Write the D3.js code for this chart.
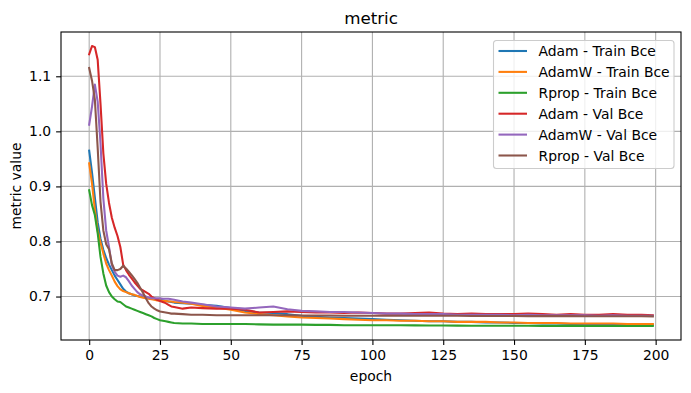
<!DOCTYPE html>
<html>
<head>
<meta charset="utf-8">
<script src="https://cdn.jsdelivr.net/npm/d3@7"></script>
<style>
  body { margin: 0; background: #fff; }
  svg { font-family: "DejaVu Sans", sans-serif; }
</style>
</head>
<body>
<div id="chart"></div>
<script>
const epochs = [0,1,2,3,4,5,6,7,8,9,10,11,12,13,14,15,16,17,18,19,20,21,22,23,24,25,26,27,28,29,30,
    33,36,40,45,50,55,60,65,70,75,80,85,90,95,100,105,110,115,120,125,130,135,140,145,150,
    155,160,165,170,175,180,185,190,195,199]

const seriesNames = [
    "Adam - Train Bce",
    "AdamW - Train Bce",
    "Rprop - Train Bce",
    "Adam - Val Bce",
    "AdamW - Val Bce",
    "Rprop - Val Bce"
]

const colors = ["#1f77b4", "#ff7f0e", "#2ca02c", "#d62728", "#9467bd", "#8c564b"]

const adamTrain = [0.965,0.925,0.880,0.835,0.805,0.785,0.770,0.758,0.748,0.738,0.730,0.722,0.714,0.709,0.706,0.704,
    0.702,0.701,0.700,0.699,0.698,0.697,0.696,0.695,0.695,0.694,0.693,0.692,0.691,0.690,0.689,
    0.688,0.687,0.685,0.683,0.679,0.674,0.671,0.670,0.668,0.665,0.663,0.662,0.661,0.660,0.659,0.658,0.657,0.656,
    0.655,0.655,0.654,0.654,0.653,0.653,0.652,0.652,0.651,0.651,0.650,0.650,0.650,0.649,0.649,0.649,0.649]

const adamwTrain = [0.942,0.905,0.858,0.820,0.798,0.778,0.760,0.748,0.738,0.727,0.719,0.713,0.710,0.708,0.706,0.704,
    0.703,0.701,0.699,0.698,0.697,0.696,0.695,0.694,0.693,0.693,0.692,0.692,0.691,0.691,0.690,
    0.689,0.687,0.683,0.680,0.676,0.671,0.668,0.666,0.664,0.662,0.661,0.660,0.659,0.658,0.657,0.657,0.656,0.656,
    0.655,0.655,0.654,0.654,0.654,0.653,0.653,0.652,0.652,0.652,0.651,0.651,0.651,0.651,0.650,0.650,0.650]

const rpropTrain = [0.893,0.866,0.848,0.815,0.772,0.742,0.720,0.708,0.700,0.695,0.691,0.690,0.686,0.682,0.680,0.678,
    0.676,0.674,0.672,0.670,0.668,0.666,0.664,0.661,0.659,0.657,0.656,0.655,0.654,0.653,0.652,
    0.651,0.651,0.650,0.650,0.650,0.650,0.6495,0.649,0.649,0.649,0.6485,0.6485,0.648,0.648,0.648,0.648,0.6478,0.6476,
    0.6475,0.6474,0.6472,0.647,0.647,0.647,0.6469,0.6468,0.6468,0.6467,0.6467,0.6466,0.6466,0.6465,0.6465,0.6465,0.6465]

const adamVal = [1.140,1.155,1.153,1.130,1.050,0.960,0.905,0.870,0.843,0.825,0.810,0.790,0.758,0.748,0.740,0.733,
    0.726,0.720,0.714,0.711,0.708,0.705,0.700,0.697,0.694,0.692,0.690,0.688,0.685,0.682,0.681,
    0.678,0.680,0.679,0.678,0.678,0.676,0.671,0.672,0.673,0.672,0.671,0.671,0.670,0.671,0.670,0.669,0.669,0.670,
    0.671,0.669,0.668,0.669,0.668,0.668,0.668,0.669,0.668,0.667,0.668,0.667,0.667,0.668,0.667,0.667,0.666]

const adamwVal = [1.012,1.045,1.085,1.054,0.978,0.878,0.820,0.790,0.757,0.745,0.738,0.736,0.738,0.735,0.728,0.720,
    0.714,0.708,0.704,0.702,0.700,0.698,0.697,0.697,0.697,0.697,0.696,0.696,0.696,0.695,0.694,
    0.691,0.689,0.686,0.682,0.680,0.678,0.680,0.682,0.677,0.674,0.673,0.672,0.672,0.671,0.670,0.669,0.669,0.668,
    0.668,0.668,0.667,0.667,0.667,0.667,0.666,0.667,0.666,0.666,0.666,0.666,0.665,0.666,0.665,0.665,0.665]

const rpropVal = [1.115,1.092,1.058,0.970,0.872,0.820,0.795,0.786,0.760,0.748,0.748,0.750,0.756,0.751,0.745,0.739,
    0.732,0.725,0.716,0.707,0.697,0.688,0.682,0.678,0.675,0.673,0.672,0.671,0.670,0.669,0.669,
    0.668,0.667,0.667,0.666,0.666,0.666,0.666,0.666,0.666,0.6655,0.6655,0.6655,0.665,0.665,0.665,0.665,0.665,0.665,
    0.665,0.665,0.665,0.6648,0.6648,0.6646,0.6646,0.6645,0.6645,0.6644,0.6644,0.6643,0.6643,0.6642,0.6642,0.6641,0.664]

const xTicks = [0, 25, 50, 75, 100, 125, 150, 175, 200]
const yTicks = [0.7, 0.8, 0.9, 1.0, 1.1]

const allSeries = [adamTrain, adamwTrain, rpropTrain, adamVal, adamwVal, rpropVal]

// figure and axes box, matplotlib style
var W = 691, H = 393
var margin = {top: 32, right: 10, bottom: 53, left: 61}
var x0 = margin.left, x1 = W - margin.right
var y0 = margin.top, y1 = H - margin.bottom

var svg = d3.select("#chart")
    .append("svg")
    .attr("width", W)
    .attr("height", H)

// 5% padding around the data like matplotlib autoscale
var xMin = d3.min(epochs), xMax = d3.max(epochs)
var xPad = (xMax - xMin) * 0.05
var x = d3.scaleLinear().domain([xMin - xPad, xMax + xPad]).range([x0, x1])

var yMin = d3.min(allSeries, s => d3.min(s)), yMax = d3.max(allSeries, s => d3.max(s))
var yPad = (yMax - yMin) * 0.05
var y = d3.scaleLinear().domain([yMin - yPad, yMax + yPad]).range([y1, y0])

// grid
svg.append("g")
    .selectAll("line")
    .data(xTicks)
    .enter()
    .append("line")
    .attr("x1", d => x(d)).attr("x2", d => x(d))
    .attr("y1", y0).attr("y2", y1)
    .attr("stroke", "#b0b0b0")
    .attr("stroke-width", 1.1)

svg.append("g")
    .selectAll("line")
    .data(yTicks)
    .enter()
    .append("line")
    .attr("x1", x0).attr("x2", x1)
    .attr("y1", d => y(d)).attr("y2", d => y(d))
    .attr("stroke", "#b0b0b0")
    .attr("stroke-width", 1.1)

// lines
var line = d3.line()
    .x((d, i) => x(epochs[i]))
    .y(d => y(d))

svg.append("g")
    .attr("clip-path", "url(#clip)")
    .selectAll("path")
    .data(allSeries)
    .enter()
    .append("path")
    .attr("d", d => line(d))
    .attr("fill", "none")
    .attr("stroke", (d, i) => colors[i])
    .attr("stroke-width", 2.08)
    .attr("stroke-linejoin", "round")
    .attr("stroke-linecap", "square")

svg.append("clipPath").attr("id", "clip")
    .append("rect")
    .attr("x", x0).attr("y", y0)
    .attr("width", x1 - x0).attr("height", y1 - y0)

// axes
var xAxis = svg.append("g")
    .attr("transform", "translate(0," + y1 + ")")
    .call(d3.axisBottom(x).tickValues(xTicks).tickFormat(d3.format("d")).tickSize(4.9).tickPadding(4.9))
var yAxis = svg.append("g")
    .attr("transform", "translate(" + x0 + ",0)")
    .call(d3.axisLeft(y).tickValues(yTicks).tickFormat(d3.format(".1f")).tickSize(4.9).tickPadding(4.9))

xAxis.select(".domain").remove()
yAxis.select(".domain").remove()
svg.selectAll(".tick text")
    .attr("font-family", "DejaVu Sans")
    .attr("font-size", 13.9)
    .attr("fill", "#000")
svg.selectAll(".tick line").attr("stroke", "#000").attr("stroke-width", 1.1)

// frame
svg.append("rect")
    .attr("x", x0).attr("y", y0)
    .attr("width", x1 - x0).attr("height", y1 - y0)
    .attr("fill", "none")
    .attr("stroke", "#000")
    .attr("stroke-width", 1.1)

// title and labels
svg.append("text")
    .attr("x", (x0 + x1) / 2).attr("y", y0 - 8)
    .attr("text-anchor", "middle")
    .attr("font-size", 16.7)
    .text("metric")

svg.append("text")
    .attr("x", (x0 + x1) / 2).attr("y", 381)
    .attr("text-anchor", "middle")
    .attr("font-size", 13.9)
    .text("epoch")

svg.append("text")
    .attr("transform", "translate(21," + ((y0 + y1) / 2) + ") rotate(-90)")
    .attr("text-anchor", "middle")
    .attr("font-size", 13.9)
    .text("metric value")

// legend
var lg = svg.append("g").attr("transform", "translate(493.5,40.5)")
lg.append("rect")
    .attr("width", 180.5).attr("height", 128)
    .attr("rx", 3)
    .attr("fill", "#fff").attr("fill-opacity", 0.8)
    .attr("stroke", "#cccccc")
    .attr("stroke-width", 1.1)

var items = lg.selectAll(".item")
    .data(seriesNames)
    .enter()
    .append("g")
    .attr("transform", (d, i) => "translate(0," + (10.5 + i * 20.9) + ")")

items.append("line")
    .attr("x1", 5).attr("x2", 33.5)
    .attr("stroke", (d, i) => colors[i])
    .attr("stroke-width", 2.08)

items.append("text")
    .attr("x", 45)
    .attr("dy", "0.36em")
    .attr("font-size", 13.9)
    .text(d => d)
</script>
</body>
</html>
